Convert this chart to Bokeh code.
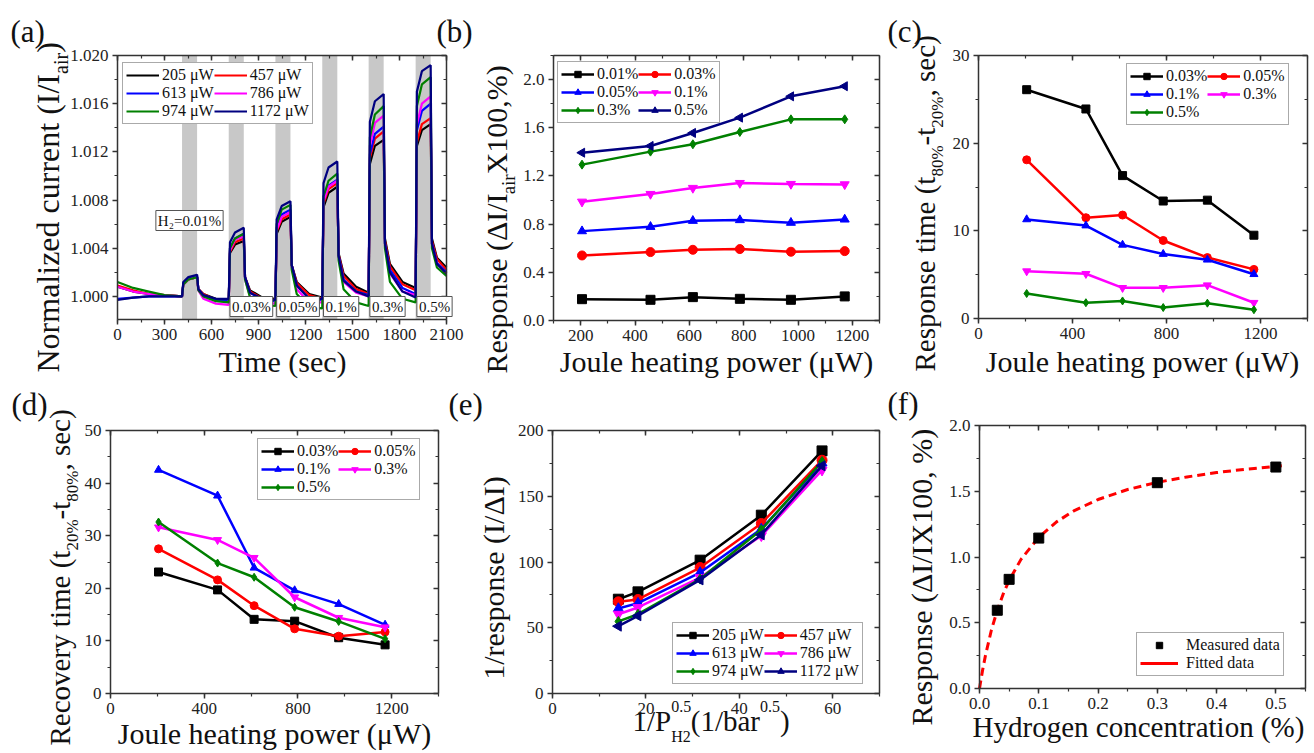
import math
from bokeh.plotting import figure
from bokeh.models import (LinearAxis, SingleIntervalTicker, PrintfTickFormatter,
                          Label, Legend, LegendItem, Range1d)
from bokeh.layouts import row, column
from bokeh.embed import file_html
from bokeh.resources import INLINE

FONT = "Liberation Serif"

# ======================= DATA =======================
# (a) normalized current vs time
time_s = [0, 100, 200, 300,
          412, 420, 452, 508, 516, 548, 628,
          710, 718, 750, 806, 814, 846, 926,
          1008, 1016, 1048, 1104, 1112, 1144, 1224,
          1307, 1315, 1347, 1403, 1411, 1443, 1523,
          1603, 1611, 1643, 1699, 1707, 1739, 1819,
          1903, 1911, 1943, 1999, 2007, 2039, 2100]
cur_205 = [1.0008, 1.0004, 1.0002, 1.0001,
           1.0000, 1.0010, 1.0014, 1.0016, 1.0006, 1.0002, 0.9998,
           0.9997, 1.0036, 1.0043, 1.0046, 1.0016, 1.0005, 0.9999,
           0.9998, 1.0052, 1.0062, 1.0066, 1.0026, 1.0012, 1.0002,
           0.9999, 1.0074, 1.0086, 1.0091, 1.0036, 1.0019, 1.0008,
           1.0003, 1.0110, 1.0125, 1.0130, 1.0048, 1.0027, 1.0012,
           1.0007, 1.0125, 1.0138, 1.0143, 1.0048, 1.0032, 1.0024]
cur_457 = [1.0009, 1.0005, 1.0002, 1.0001,
           1.0000, 1.0010, 1.0014, 1.0016, 1.0006, 1.0002, 0.9997,
           0.9996, 1.0037, 1.0045, 1.0048, 1.0016, 1.0004, 0.9998,
           0.9997, 1.0054, 1.0064, 1.0068, 1.0026, 1.0011, 1.0001,
           0.9998, 1.0077, 1.0089, 1.0094, 1.0035, 1.0017, 1.0006,
           1.0002, 1.0115, 1.0131, 1.0137, 1.0046, 1.0025, 1.0010,
           1.0005, 1.0128, 1.0143, 1.0148, 1.0046, 1.0031, 1.0022]
cur_613 = [0.9998, 0.9999, 1.0000, 1.0000,
           1.0000, 1.0011, 1.0015, 1.0017, 1.0006, 1.0001, 0.9997,
           0.9996, 1.0040, 1.0048, 1.0052, 1.0016, 1.0003, 0.9997,
           0.9996, 1.0057, 1.0068, 1.0072, 1.0026, 1.0009, 0.9998,
           0.9997, 1.0080, 1.0092, 1.0097, 1.0034, 1.0014, 1.0004,
           1.0001, 1.0118, 1.0135, 1.0141, 1.0044, 1.0022, 1.0007,
           1.0002, 1.0138, 1.0154, 1.0160, 1.0044, 1.0028, 1.0020]
cur_786 = [1.0008, 1.0004, 1.0002, 1.0001,
           1.0000, 1.0010, 1.0014, 1.0016, 1.0005, 0.9998, 0.9994,
           0.9993, 1.0038, 1.0047, 1.0050, 1.0014, 1.0000, 0.9995,
           0.9994, 1.0055, 1.0066, 1.0070, 1.0024, 1.0006, 0.9995,
           0.9995, 1.0079, 1.0091, 1.0096, 1.0033, 1.0012, 1.0003,
           1.0000, 1.0125, 1.0144, 1.0150, 1.0042, 1.0019, 1.0004,
           1.0001, 1.0143, 1.0160, 1.0166, 1.0043, 1.0027, 1.0019]
cur_974 = [1.0012, 1.0007, 1.0004, 1.0001,
           1.0000, 1.0010, 1.0014, 1.0016, 1.0005, 1.0000, 0.9996,
           0.9995, 1.0040, 1.0048, 1.0052, 1.0014, 0.9999, 0.9993,
           0.9992, 1.0060, 1.0072, 1.0076, 1.0022, 1.0002, 0.9991,
           0.9990, 1.0083, 1.0096, 1.0102, 1.0030, 1.0006, 0.9995,
           0.9992, 1.0132, 1.0151, 1.0158, 1.0040, 1.0012, 0.9998,
           0.9995, 1.0158, 1.0176, 1.0182, 1.0040, 1.0024, 1.0017]
cur_1172 = [0.9997, 0.9999, 1.0000, 1.0000,
            1.0000, 1.0012, 1.0016, 1.0018, 1.0006, 1.0001, 0.9998,
            0.9998, 1.0045, 1.0053, 1.0057, 1.0016, 1.0003, 0.9998,
            0.9997, 1.0064, 1.0075, 1.0079, 1.0026, 1.0009, 0.9998,
            0.9998, 1.0094, 1.0107, 1.0112, 1.0034, 1.0013, 1.0004,
            1.0000, 1.0145, 1.0162, 1.0168, 1.0044, 1.0020, 1.0004,
            0.9999, 1.0170, 1.0187, 1.0192, 1.0044, 1.0027, 1.0019]
pulse_start = [412, 710, 1008, 1307, 1603, 1903]
pulse_end = [508, 806, 1104, 1403, 1699, 1999]
first_pulse_label = "H\u2082=0.01%"
pulse_labels = ["0.03%", "0.05%", "0.1%", "0.3%", "0.5%"]

# (b)-(d) vs Joule heating power
power_uw = [205, 457, 613, 786, 974, 1172]
power_names = ["205 \u03bcW", "457 \u03bcW", "613 \u03bcW", "786 \u03bcW", "974 \u03bcW", "1172 \u03bcW"]
resp_names = ["0.01%", "0.03%", "0.05%", "0.1%", "0.3%", "0.5%"]
resp_b = [
    [0.177, 0.172, 0.194, 0.180, 0.172, 0.200],
    [0.540, 0.568, 0.587, 0.593, 0.571, 0.576],
    [0.742, 0.778, 0.828, 0.834, 0.812, 0.839],
    [0.986, 1.050, 1.100, 1.141, 1.133, 1.130],
    [1.294, 1.402, 1.463, 1.565, 1.670, 1.670],
    [1.393, 1.449, 1.557, 1.684, 1.861, 1.945],
]
time_names = ["0.03%", "0.05%", "0.1%", "0.3%", "0.5%"]
resp_time_c = [
    [26.1, 23.9, 16.3, 13.4, 13.5, 9.5],
    [18.1, 11.5, 11.8, 8.9, 6.95, 5.6],
    [11.3, 10.6, 8.4, 7.35, 6.7, 5.05],
    [5.4, 5.1, 3.5, 3.5, 3.8, 1.8],
    [2.85, 1.8, 2.0, 1.25, 1.75, 1.0],
]
recov_time_d = [
    [23.1, 19.7, 14.1, 13.75, 10.6, 9.25],
    [27.5, 21.6, 16.7, 12.3, 10.9, 11.7],
    [42.5, 37.6, 23.9, 19.6, 17.0, 13.05],
    [31.6, 29.2, 25.8, 18.3, 14.4, 12.6],
    [32.6, 24.8, 22.1, 16.4, 13.7, 10.4],
]
# (e) 1/response vs 1/sqrt(P_H2)
inv_sqrt_p = [14.1, 18.3, 31.6, 44.7, 57.7]
inv_resp_e = [
    [71.7, 77.3, 101.4, 135.6, 184.5],
    [69.7, 71.5, 95.8, 129.3, 177.4],
    [64.6, 68.7, 92.0, 125.0, 175.2],
    [60.3, 65.4, 88.2, 119.9, 169.8],
    [54.8, 60.3, 87.0, 124.5, 176.4],
    [51.2, 59.1, 86.4, 120.7, 173.1],
]
# (f) response vs hydrogen concentration
h2_conc = [0.03, 0.05, 0.1, 0.3, 0.5]
measured_resp = [0.595, 0.83, 1.144, 1.565, 1.684]
fit_conc = [0.0, 0.005, 0.01, 0.02, 0.03, 0.04, 0.05, 0.07, 0.1, 0.13, 0.16,
            0.2, 0.25, 0.3, 0.35, 0.4, 0.45, 0.51]
fit_resp = [0.0, 0.134, 0.250, 0.443, 0.595, 0.719, 0.822, 0.982, 1.150, 1.267,
            1.353, 1.437, 1.513, 1.568, 1.609, 1.642, 1.668, 1.694]

# ======================= STYLE =======================
COLORS = ["#000000", "#FF0000", "#0000FF", "#FF00FF", "#008000", "#000080"]
MARKERS = ["square", "circle", "triangle", "inverted_triangle", "diamond", "triangle"]
ANGLES = [0, 0, 0, 0, 0, math.pi / 2]
BASE_FIX = 0.3   # empirical correction of the rendered alphabetic baseline (in em)

CW = {' ': 250, '%': 833, '(': 333, ')': 333, ',': 250, '-': 333, '.': 250, '/': 278,
      '=': 564, 'A': 722, 'B': 667, 'C': 667, 'D': 722, 'E': 611, 'F': 556, 'G': 722,
      'H': 722, 'I': 333, 'J': 389, 'K': 722, 'L': 611, 'M': 889, 'N': 722, 'O': 722,
      'P': 556, 'Q': 722, 'R': 667, 'S': 556, 'T': 611, 'U': 722, 'V': 722, 'W': 944,
      'X': 722, 'Y': 722, 'Z': 611, 'a': 444, 'b': 500, 'c': 444, 'd': 500, 'e': 444,
      'f': 333, 'g': 500, 'h': 500, 'i': 278, 'j': 278, 'k': 500, 'l': 278, 'm': 778,
      'n': 500, 'o': 500, 'p': 500, 'q': 500, 'r': 333, 's': 389, 't': 278, 'u': 500,
      'v': 500, 'w': 722, 'x': 500, 'y': 500, 'z': 444, '\u0394': 612, '\u03bc': 576}


def tw(s, size):
    return sum(CW.get(c, 500) for c in s) * size / 1000.0


def style_axis(ax, outer, fmt=None):
    ax.axis_line_color = "#333333"
    ax.axis_line_width = 1.5
    ax.major_tick_line_color = "#333333"
    ax.major_tick_line_width = 1.5
    ax.minor_tick_line_color = "#333333"
    ax.minor_tick_line_width = 1.2
    if outer:
        ax.major_tick_out = 5
        ax.major_tick_in = 0
        ax.minor_tick_out = 3
        ax.minor_tick_in = 0
        ax.major_label_text_font = FONT
        ax.major_label_text_font_size = "17px"
        ax.major_label_text_color = "#222222"
        ax.major_label_standoff = 4
        if fmt:
            ax.formatter = PrintfTickFormatter(format=fmt)
    else:
        ax.major_tick_out = 0
        ax.major_tick_in = 5
        ax.minor_tick_out = 0
        ax.minor_tick_in = 3
        ax.major_label_text_color = None


def make_panel(cx, cy, cw, ch, box, xb, yb, xint, yint, xfmt=None, yfmt=None):
    """cx, cy: canvas origin in page pixels; box: plot box (left, top, w, h) in canvas px."""
    bl, bt, bw, bh = box
    x0, x1 = xb
    y0, y1 = yb
    dx, dy = x1 - x0, y1 - y0
    xr = Range1d(x0 - bl / bw * dx, x1 + (cw - bl - bw) / bw * dx)
    yr = Range1d(y0 - (ch - bt - bh) / bh * dy, y1 + bt / bh * dy)
    p = figure(width=cw, height=ch, x_range=xr, y_range=yr,
               output_backend="svg", toolbar_location=None,
               x_axis_type=None, y_axis_type=None,
               min_border_left=0, min_border_right=0, min_border_top=0, min_border_bottom=0)
    p.title.visible = False
    p.outline_line_color = None
    p.background_fill_color = "white"
    p.border_fill_color = "white"
    xt = SingleIntervalTicker(interval=xint, num_minor_ticks=2)
    yt = SingleIntervalTicker(interval=yint, num_minor_ticks=2)
    specs = (("below", xt, True, xfmt, y0, xb), ("left", yt, True, yfmt, x0, yb),
             ("above", xt, False, None, y1, xb), ("right", yt, False, None, x1, yb))
    for loc, tk, outer, fmt, fixed, bnd in specs:
        ax = LinearAxis(ticker=tk, fixed_location=fixed, bounds=bnd)
        style_axis(ax, outer, fmt)
        p.add_layout(ax, loc)
    m = dict(cx=cx, cy=cy, ch=ch, l=bl, t=bt, fw=bw, fh=bh, xr=xb, yr=yb)
    return p, m


def ref2data(m, rx, ry):
    px = rx - m["cx"]
    py = ry - m["cy"]
    x0, x1 = m["xr"]
    y0, y1 = m["yr"]
    x = x0 + (px - m["l"]) / m["fw"] * (x1 - x0)
    y = y1 - (py - m["t"]) / m["fh"] * (y1 - y0)
    return x, y


def add_text(p, m, rx, ry, text, size, angle=0.0, align="left", baseline="alphabetic", **kw):
    size = int(round(size))
    if baseline == "alphabetic":
        if angle:
            rx -= BASE_FIX * size
        else:
            ry -= BASE_FIX * size
    x, y = ref2data(m, rx, ry)
    p.add_layout(Label(x=x, y=y, text=text, text_font=FONT, text_font_size=f"{size}px",
                       angle=angle, text_align=align, text_baseline=baseline,
                       text_color="#111111", **kw))


def rich(p, m, segs, rx, ry, size, vertical=False, center=False, sc=0.62, sub=0.3, sup=0.6):
    def fsz(k):
        return size if k == "n" else int(round(size * sc))
    total = sum(tw(t, fsz(k)) for t, k in segs if k != "sup0")
    pos = -total / 2 if center else 0.0
    for t, k in segs:
        fs = fsz(k)
        if k == "n":
            dy = 0.0
        elif k == "sub":
            dy = size * sub
        else:
            dy = -size * sup
        if vertical:
            add_text(p, m, rx + dy, ry - pos, t, fs, angle=math.pi / 2)
        else:
            add_text(p, m, rx + pos, ry + dy, t, fs)
        if k != "sup0":
            pos += tw(t, fs)


def add_legend(p, m, items, nrows, ref_left, ref_top, font=16, gw=33, standoff=3):
    est_h = 6 + nrows * 19
    loc = (ref_left - m["cx"], m["cy"] + m["ch"] - (ref_top + est_h))
    lg = Legend(items=items, location=loc, orientation="vertical", nrows=nrows,
                label_text_font=FONT, label_text_font_size=f"{font}px", label_text_color="#111111",
                border_line_color="#555555", border_line_width=1, background_fill_color="white",
                background_fill_alpha=1.0, padding=3, spacing=0, glyph_width=gw, glyph_height=16,
                label_height=16, label_standoff=standoff, inactive_fill_alpha=0.0)
    p.add_layout(lg)


def col_major(lst, nrows):
    # reorder so the column-major legend reads row by row in 2 columns
    out = []
    for c in range(2):
        for r in range(nrows):
            i = r * 2 + c
            if i < len(lst):
                out.append(lst[i])
    return out


# ======================= PANEL (a) =======================
A_X = (0, 2100)
A_Y = (0.99808, 1.0200)
pa, ma = make_panel(0, 0, 475, 380, (117, 55, 329, 264), A_X, A_Y, 300, 0.004, yfmt="%.3f")
pa.quad(left=pulse_start, right=pulse_end, bottom=A_Y[0], top=A_Y[1],
        fill_color="#C8C8C8", line_color=None)
series_a = [cur_205, cur_457, cur_613, cur_786, cur_974, cur_1172]
items_a = []
for vals, col, name in zip(series_a, COLORS, power_names):
    r = pa.line(time_s, vals, line_color=col, line_width=2.2)
    items_a.append(LegendItem(label=name, renderers=[r]))
add_legend(pa, ma, col_major(items_a, 3), 3, 122, 61, font=16, gw=33)
add_text(pa, ma, 189, 220, first_pulse_label, 15, align="center", baseline="middle",
         padding=2, background_fill_color="white", border_line_color="#555555", border_line_width=1)
yb = ref2data(ma, 0, 316)[1]
for k, lab in enumerate(pulse_labels):
    pa.add_layout(Label(x=pulse_start[k + 1] + 8, y=yb, text=lab, text_font=FONT,
                        text_font_size="15px", text_align="left", text_baseline="bottom",
                        text_color="#111111", padding=2, background_fill_color="white",
                        border_line_color="#555555", border_line_width=1))
add_text(pa, ma, 10, 40, "(a)", 31)
add_text(pa, ma, 436, 40, "(b)", 31)   # the "(b)" tag sits above panel (b), inside this canvas
rich(pa, ma, [("Normalized current (I/I", "n"), ("air", "sub"), (")", "n")], 57, 372, 32,
     vertical=True)
add_text(pa, ma, 282, 370, "Time (sec)", 30, align="center")

# ======================= PANEL (b) =======================
pb, mb = make_panel(475, 0, 409, 380, (78, 55, 326, 265), (100, 1300), (0.0, 2.2), 200, 0.4,
                    yfmt="%.1f")
items_b = []
for vals, col, mk, ang, name in zip(resp_b, COLORS, MARKERS, ANGLES, resp_names):
    l = pb.line(power_uw, vals, line_color=col, line_width=2.5)
    s = pb.scatter(power_uw, vals, marker=mk, angle=ang, size=9, fill_color=col, line_color=col)
    items_b.append(LegendItem(label=name, renderers=[l, s]))
add_legend(pb, mb, col_major(items_b, 3), 3, 557, 60, font=16, gw=33)
rich(pb, mb, [("Response (\u0394I/I", "n"), ("air", "sub"), ("X100,%)", "n")], 505, 373, 30,
     vertical=True)
add_text(pb, mb, 716, 370, "Joule heating power (\u03bcW)", 30, align="center")

# ======================= PANEL (c) =======================
pc, mc = make_panel(884, 0, 428, 380, (94, 55, 329, 263), (0, 1400), (0, 30), 400, 10)
items_c = []
for vals, col, mk, name in zip(resp_time_c, COLORS, MARKERS[:5], time_names):
    l = pc.line(power_uw, vals, line_color=col, line_width=2.5)
    s = pc.scatter(power_uw, vals, marker=mk, size=8, fill_color=col, line_color=col)
    items_c.append(LegendItem(label=name, renderers=[l, s]))
add_legend(pc, mc, col_major(items_c, 3), 3, 1126, 62, font=16, gw=33)
add_text(pc, mc, 887, 40, "(c)", 31)
rich(pc, mc, [("Response time (t", "n"), ("80%", "sub"), ("-t", "n"), ("20%", "sub"),
              (", sec)", "n")], 933, 371, 29, vertical=True, sc=0.6)
add_text(pc, mc, 1142, 370, "Joule heating power (\u03bcW)", 30, align="center")

# ======================= PANEL (d) =======================
pd_, md = make_panel(0, 380, 445, 371, (110, 50, 328, 263), (0, 1400), (0, 50), 400, 10)
items_d = []
for vals, col, mk, name in zip(recov_time_d, COLORS, MARKERS[:5], time_names):
    l = pd_.line(power_uw, vals, line_color=col, line_width=2.5)
    s = pd_.scatter(power_uw, vals, marker=mk, size=8, fill_color=col, line_color=col)
    items_d.append(LegendItem(label=name, renderers=[l, s]))
add_legend(pd_, md, col_major(items_d, 3), 3, 257, 437, font=16, gw=33)
add_text(pd_, md, 11, 413, "(d)", 31)
rich(pd_, md, [("Recovery time (t", "n"), ("20%", "sub"), ("-t", "n"), ("80%", "sub"),
               (", sec)", "n")], 68, 745, 29, vertical=True, sc=0.6)
add_text(pd_, md, 274, 742, "Joule heating power (\u03bcW)", 30, align="center")

# ======================= PANEL (e) =======================
pe, me = make_panel(445, 380, 439, 371, (107, 50, 327, 263), (0, 70), (0, 200), 20, 50)
items_e = []
for vals, col, mk, ang, name in zip(inv_resp_e, COLORS, MARKERS, ANGLES, power_names):
    l = pe.line(inv_sqrt_p, vals, line_color=col, line_width=2.5)
    s = pe.scatter(inv_sqrt_p, vals, marker=mk, angle=ang, size=10, fill_color=col, line_color=col)
    items_e.append(LegendItem(label=name, renderers=[l, s]))
add_legend(pe, me, col_major(items_e, 3), 3, 672, 621, font=16, gw=33)
add_text(pe, me, 448, 413, "(e)", 31)
rich(pe, me, [("1/response (I/\u0394I)", "n")], 502, 578, 30, vertical=True, center=True)
rich(pe, me, [("1/P", "n"), ("0.5", "sup0"), ("H2", "sub"), ("(1/bar", "n"), ("0.5", "sup"),
              (")", "n")], 632, 729, 29, sc=0.55, sub=0.42, sup=0.62)

# ======================= PANEL (f) =======================
pf, mf = make_panel(884, 380, 428, 371, (95, 45, 326, 263), (0, 0.55), (0, 2.0), 0.1, 0.5,
                    xfmt="%.1f", yfmt="%.1f")
fit_line = pf.line(fit_conc, fit_resp, line_color="#FF0000", line_width=3, line_dash="8 5")
meas = pf.scatter(h2_conc, measured_resp, marker="square", size=10, fill_color="black",
                  line_color="black")
fit_leg = pf.line(fit_conc, fit_resp, line_color="#FF0000", line_width=3, visible=False)
add_legend(pf, mf, [LegendItem(label="Measured data", renderers=[meas]),
                    LegendItem(label="Fitted data", renderers=[fit_leg])], 2, 1136, 632,
           font=16, gw=38, standoff=8)
add_text(pf, mf, 887, 412, "(f)", 31)
rich(pf, mf, [("Response (\u0394I/IX100, %)", "n")], 930, 725, 30, vertical=True)
add_text(pf, mf, 1138, 735, "Hydrogen concentration (%)", 29, align="center")

layout = column(row(pa, pb, pc), row(pd_, pe, pf))
open("out.html", "w").write(file_html(layout, INLINE))
